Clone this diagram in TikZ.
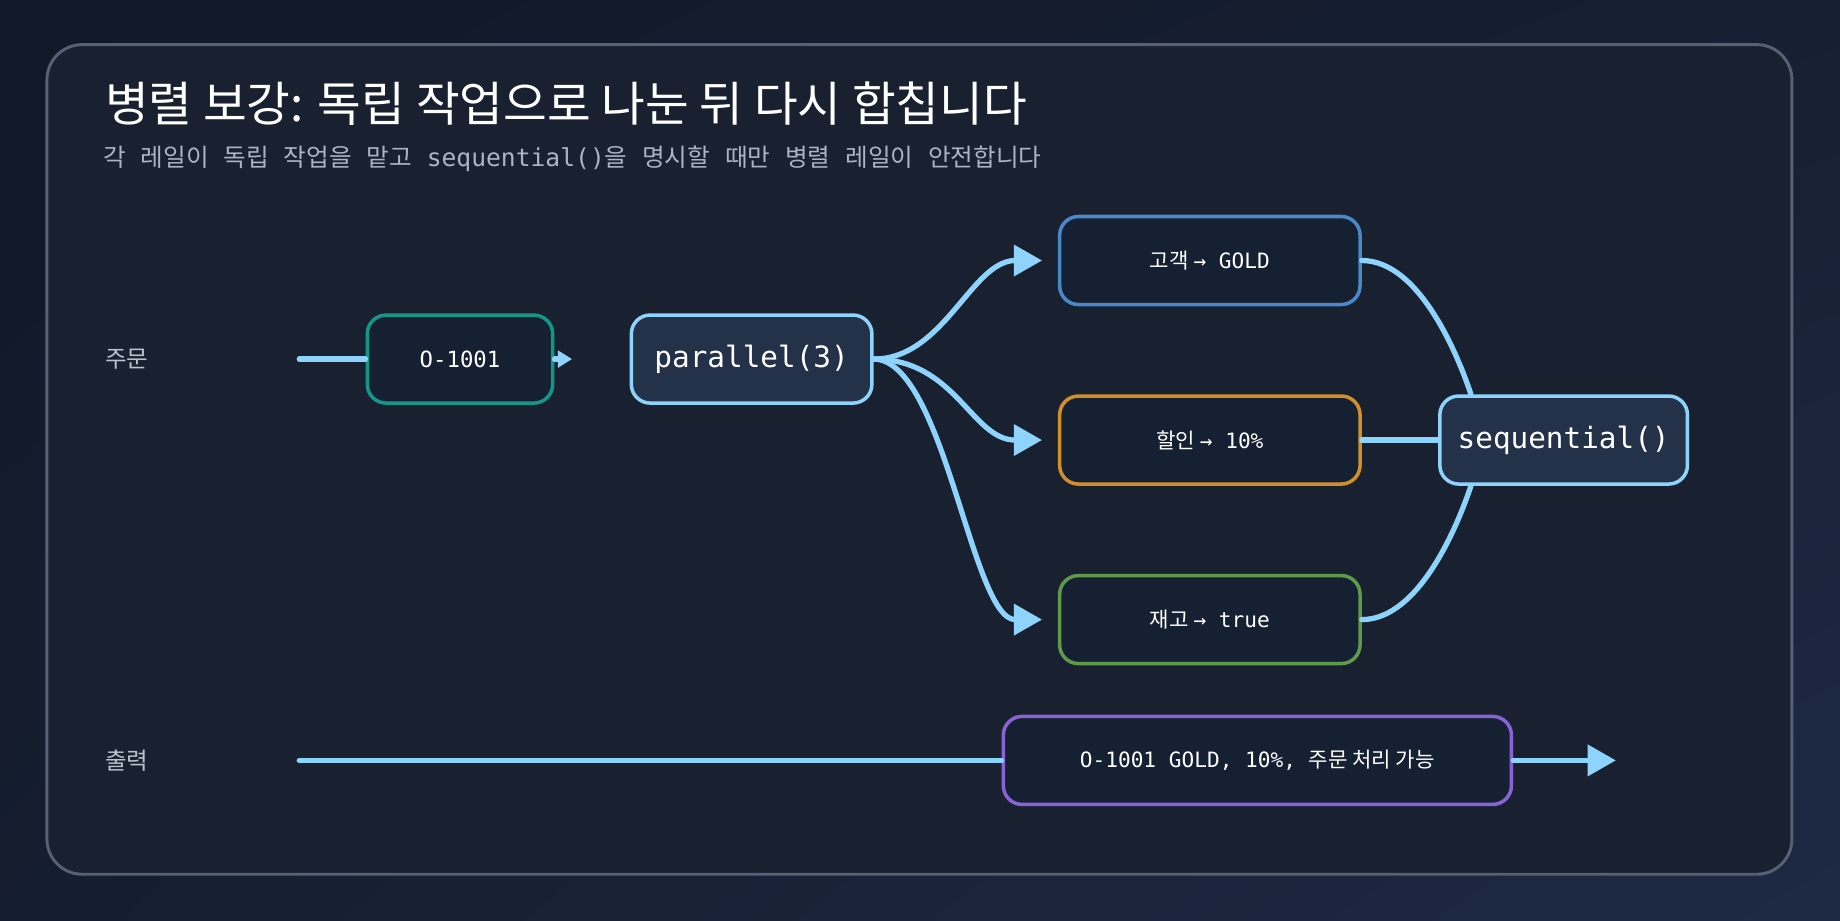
\documentclass[tikz,border=0pt]{standalone}
\usepackage{fontspec}
\setmainfont{Noto Sans CJK KR}
\newfontfamily\kr{Noto Sans CJK KR}
\newfontfamily\mono{DejaVu Sans Mono}
\usetikzlibrary{positioning,arrows.meta,shadings}
\definecolor{bgA}{HTML}{111827}
\definecolor{bgB}{HTML}{1E2A44}
\definecolor{card}{HTML}{19202F}
\definecolor{cardline}{HTML}{556275}
\definecolor{sky}{HTML}{8DD3FB}
\definecolor{boxfill}{HTML}{162033}
\definecolor{hifill}{HTML}{233249}
\definecolor{teal}{HTML}{14978B}
\definecolor{blu}{HTML}{4A88C8}
\definecolor{ora}{HTML}{D18F2C}
\definecolor{gre}{HTML}{5F9A4A}
\definecolor{pur}{HTML}{8963D3}
\definecolor{subtxt}{HTML}{A9B4C4}
\tikzset{
  box/.style={draw, line width=3pt, rounded corners=16pt, fill=boxfill,
    minimum height=75pt, text=white, font=\fontsize{18}{20}\selectfont},
  hub/.style={box, draw=sky, fill=hifill, font=\mono\fontsize{25}{28}\selectfont},
  flow/.style={draw=sky, line width=4.5pt, line cap=round},
  tip/.style={-{Triangle[length=24pt,width=26pt]}},
  rowlabel/.style={anchor=west, text=subtxt!80!white, font=\kr\fontsize{20}{22}\selectfont},
}
\begin{document}
\begin{tikzpicture}[x=1pt,y=-1pt]
  % background and card
  \shade[upper left=bgA, lower left=bgA!70!bgB, upper right=bgA!60!bgB, lower right=bgB]
    (0,0) rectangle (1568,784);
  \useasboundingbox (0,0) rectangle (1568,784);
  \draw[cardline, line width=2.5pt, fill=card, rounded corners=30pt] (40,38) rectangle (1527,745);
  \node[anchor=west, text=white, font=\kr\fontsize{40.5}{42}\selectfont] (title) at (86,88)
    {병렬 보강: 독립 작업으로 나눈 뒤 다시 합칩니다};
  \node[anchor=west, text=subtxt, font=\fontsize{21}{22}\selectfont, inner sep=0pt] (sub) at (88,135)
    {\spaceskip=0.6em{\kr 각 레일이 독립 작업을 맡고 }{\mono sequential()}{\kr 을 명시할 때만 병렬 레일이 안전합니다}};
  % row labels
  \node[rowlabel] (order) at (86,306) {주문};
  \node[rowlabel] (out) at (86,648) {출력};
  % nodes
  \node[box, draw=teal, minimum width=158pt, font=\mono\fontsize{19}{20}\selectfont] (o1001) at (392,306) {O-1001};
  \node[hub, minimum width=205pt] (par) at (640.5,306) {parallel(3)};
  \node[box, draw=blu, minimum width=256pt] (cust) at (1031,222) {고객\ {\mono → GOLD}};
  \node[box, draw=ora, minimum width=256pt] (disc) at (1031,375) {할인\ {\mono → 10\%}};
  \node[box, draw=gre, minimum width=256pt] (stock) at (1031,528) {재고\ {\mono → true}};
  \node[hub, minimum width=211pt] (seq) at (1332.5,375) {sequential()};
  \coordinate (inL) at (255,306);
  \coordinate (outL) at (255,648);
  \coordinate (outR) at (1377,648);
  \coordinate (custIn) at (888,222);
  \coordinate (discIn) at (888,375);
  \coordinate (stockIn) at (888,528);
  % connectors
  \draw[flow] (inL) -- (o1001.west);
  \draw[flow, -{Triangle[length=12pt,width=14pt]}] (o1001.east) -- ++(15,0);
  \draw[flow, tip] (par.east) .. controls +(60,0) and +(-60,0) .. (custIn);
  \draw[flow, tip] (par.east) .. controls +(70,0) and +(-60,0) .. (discIn);
  \draw[flow, tip] (par.east) .. controls +(60,0) and +(-60,0) .. (stockIn);
  \draw[flow] (cust.east) .. controls +(50,0) and +(-10,-30) .. ([xshift=28pt]seq.north west);
  \draw[flow] (disc.east) -- (seq.west);
  \draw[flow] (stock.east) .. controls +(50,0) and +(-10,30) .. ([xshift=28pt]seq.south west);
  \node[box, draw=pur, minimum width=433pt] (result) at (1071.5,648)
    {{\mono O-1001 GOLD, 10\%, }주문 처리 가능};
  \draw[flow] (outL) -- (result.west);
  \draw[flow, tip] (result.east) -- (outR);
\end{tikzpicture}
\end{document}
